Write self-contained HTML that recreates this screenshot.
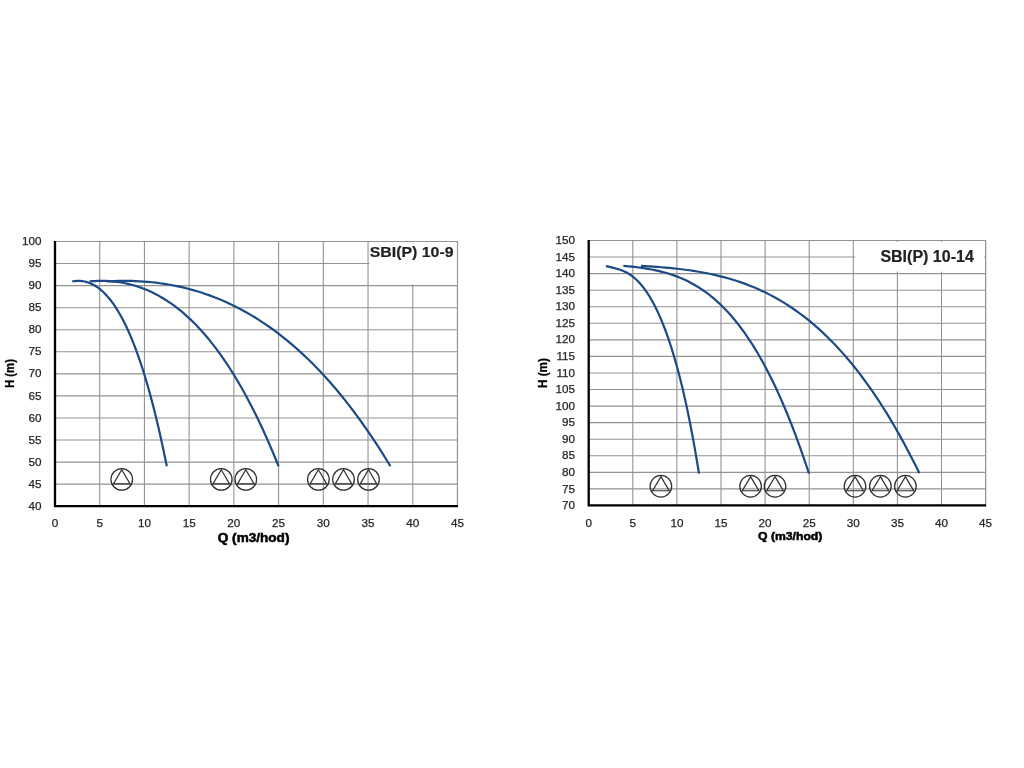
<!DOCTYPE html>
<html lang="cs"><head><meta charset="utf-8"><title>SBI(P) 10-9 / SBI(P) 10-14</title>
<style>
html,body{margin:0;padding:0;background:#fff;}
body{width:1024px;height:768px;overflow:hidden;}
svg{display:block}
.t{font-family:"Liberation Sans",sans-serif;font-size:11.7px;fill:#242424;stroke:#242424;stroke-width:.25px;}
.b{font-family:"Liberation Sans",sans-serif;font-weight:bold;fill:#000;stroke:#000;stroke-width:.5px;}
.h{stroke-width:.25px;}
.ttl{font-family:"Liberation Sans",sans-serif;font-weight:bold;fill:#222;stroke:#222;stroke-width:.2px;}
</style></head><body>
<svg width="1024" height="768" viewBox="0 0 1024 768">
<rect width="1024" height="768" fill="#fff"/>
<path d="M55.00,241.50H457.48M55.00,263.56H457.48M55.00,285.62H457.48M55.00,307.68H457.48M55.00,329.74H457.48M55.00,351.80H457.48M55.00,373.86H457.48M55.00,395.92H457.48M55.00,417.98H457.48M55.00,440.04H457.48M55.00,462.10H457.48M55.00,484.16H457.48M99.72,241.50V506.22M144.44,241.50V506.22M189.16,241.50V506.22M233.88,241.50V506.22M278.60,241.50V506.22M323.32,241.50V506.22M368.04,241.50V506.22M412.76,241.50V506.22M457.48,241.50V506.22" stroke="#939393" stroke-width="1.1" fill="none"/>
<rect x="369.4" y="242.1" width="87.50" height="42.50" fill="#fff"/>
<path d="M55.00,241.50H457.48V506.22" stroke="#939393" stroke-width="1.1" fill="none"/>
<path d="M72.26,281.45 L73.63,281.22 L75.00,281.05 L76.37,280.94 L77.74,280.88 L79.11,280.89 L80.48,280.96 L81.85,281.08 L83.22,281.28 L84.59,281.54 L85.96,281.86 L87.33,282.25 L88.70,282.71 L90.07,283.23 L91.44,283.83 L92.81,284.50 L94.18,285.24 L95.55,286.05 L96.92,286.94 L98.29,287.91 L99.66,288.95 L101.03,290.08 L102.40,291.28 L103.77,292.56 L105.14,293.93 L106.51,295.38 L107.88,296.92 L109.26,298.54 L110.63,300.26 L112.00,302.06 L113.37,303.95 L114.74,305.94 L116.11,308.02 L117.48,310.19 L118.85,312.46 L120.22,314.83 L121.59,317.31 L122.96,319.88 L124.33,322.56 L125.70,325.34 L127.07,328.23 L128.44,331.22 L129.81,334.33 L131.18,337.55 L132.55,340.88 L133.92,344.32 L135.29,347.89 L136.66,351.57 L138.03,355.37 L139.40,359.29 L140.77,363.34 L142.14,367.51 L143.51,371.81 L144.88,376.24 L146.25,380.81 L147.62,385.50 L148.99,390.33 L150.36,395.29 L151.73,400.40 L153.10,405.64 L154.47,411.03 L155.84,416.57 L157.21,422.24 L158.58,428.07 L159.95,434.05 L161.32,440.18 L162.69,446.47 L164.06,452.91 L165.43,459.52 L166.80,466.28" stroke="#1c4a86" stroke-width="2.2" fill="none" stroke-linecap="butt" stroke-linejoin="round"/>
<path d="M89.52,281.45 L92.26,281.22 L95.00,281.05 L97.74,280.94 L100.48,280.88 L103.23,280.89 L105.97,280.96 L108.71,281.08 L111.45,281.28 L114.19,281.54 L116.93,281.86 L119.67,282.25 L122.41,282.71 L125.15,283.23 L127.89,283.83 L130.63,284.50 L133.37,285.24 L136.11,286.05 L138.85,286.94 L141.59,287.91 L144.33,288.95 L147.07,290.08 L149.81,291.28 L152.55,292.56 L155.29,293.93 L158.03,295.38 L160.77,296.92 L163.51,298.54 L166.25,300.26 L168.99,302.06 L171.73,303.95 L174.47,305.94 L177.21,308.02 L179.95,310.19 L182.69,312.46 L185.43,314.83 L188.17,317.31 L190.91,319.88 L193.65,322.56 L196.39,325.34 L199.13,328.23 L201.87,331.22 L204.61,334.33 L207.35,337.55 L210.09,340.88 L212.83,344.32 L215.57,347.89 L218.31,351.57 L221.06,355.37 L223.80,359.29 L226.54,363.34 L229.28,367.51 L232.02,371.81 L234.76,376.24 L237.50,380.81 L240.24,385.50 L242.98,390.33 L245.72,395.29 L248.46,400.40 L251.20,405.64 L253.94,411.03 L256.68,416.57 L259.42,422.24 L262.16,428.07 L264.90,434.05 L267.64,440.18 L270.38,446.47 L273.12,452.91 L275.86,459.52 L278.60,466.28" stroke="#1c4a86" stroke-width="2.2" fill="none" stroke-linecap="butt" stroke-linejoin="round"/>
<path d="M106.79,281.45 L110.90,281.22 L115.01,281.05 L119.12,280.94 L123.23,280.88 L127.34,280.89 L131.45,280.96 L135.56,281.08 L139.67,281.28 L143.78,281.54 L147.89,281.86 L152.00,282.25 L156.11,282.71 L160.22,283.23 L164.33,283.83 L168.44,284.50 L172.55,285.24 L176.66,286.05 L180.77,286.94 L184.88,287.91 L188.99,288.95 L193.10,290.08 L197.21,291.28 L201.32,292.56 L205.43,293.93 L209.54,295.38 L213.65,296.92 L217.77,298.54 L221.88,300.26 L225.99,302.06 L230.10,303.95 L234.21,305.94 L238.32,308.02 L242.43,310.19 L246.54,312.46 L250.65,314.83 L254.76,317.31 L258.87,319.88 L262.98,322.56 L267.09,325.34 L271.20,328.23 L275.31,331.22 L279.42,334.33 L283.53,337.55 L287.64,340.88 L291.75,344.32 L295.86,347.89 L299.97,351.57 L304.08,355.37 L308.19,359.29 L312.30,363.34 L316.41,367.51 L320.52,371.81 L324.63,376.24 L328.74,380.81 L332.86,385.50 L336.97,390.33 L341.08,395.29 L345.19,400.40 L349.30,405.64 L353.41,411.03 L357.52,416.57 L361.63,422.24 L365.74,428.07 L369.85,434.05 L373.96,440.18 L378.07,446.47 L382.18,452.91 L386.29,459.52 L390.40,466.28" stroke="#1c4a86" stroke-width="2.2" fill="none" stroke-linecap="butt" stroke-linejoin="round"/>
<circle cx="121.75" cy="479.4" r="10.8" fill="none" stroke="#2e2e2e" stroke-width="1.25"/>
<path d="M121.75,469.80L130.06,483.91H113.44Z" fill="none" stroke="#2e2e2e" stroke-width="1.2" stroke-linejoin="miter"/>
<circle cx="221.25" cy="479.4" r="10.8" fill="none" stroke="#2e2e2e" stroke-width="1.25"/>
<path d="M221.25,469.80L229.56,483.91H212.94Z" fill="none" stroke="#2e2e2e" stroke-width="1.2" stroke-linejoin="miter"/>
<circle cx="245.8" cy="479.4" r="10.8" fill="none" stroke="#2e2e2e" stroke-width="1.25"/>
<path d="M245.8,469.80L254.11,483.91H237.49Z" fill="none" stroke="#2e2e2e" stroke-width="1.2" stroke-linejoin="miter"/>
<circle cx="318.4" cy="479.4" r="10.8" fill="none" stroke="#2e2e2e" stroke-width="1.25"/>
<path d="M318.4,469.80L326.71,483.91H310.09Z" fill="none" stroke="#2e2e2e" stroke-width="1.2" stroke-linejoin="miter"/>
<circle cx="343.5" cy="479.4" r="10.8" fill="none" stroke="#2e2e2e" stroke-width="1.25"/>
<path d="M343.5,469.80L351.81,483.91H335.19Z" fill="none" stroke="#2e2e2e" stroke-width="1.2" stroke-linejoin="miter"/>
<circle cx="368.5" cy="479.4" r="10.8" fill="none" stroke="#2e2e2e" stroke-width="1.25"/>
<path d="M368.5,469.80L376.81,483.91H360.19Z" fill="none" stroke="#2e2e2e" stroke-width="1.2" stroke-linejoin="miter"/>
<path d="M55.00,241.00V506.22H457.98" stroke="#000" stroke-width="2.3" fill="none" stroke-linejoin="miter" stroke-linecap="butt"/>
<text x="41.40" y="245.10" text-anchor="end" class="t">100</text>
<text x="41.40" y="267.16" text-anchor="end" class="t">95</text>
<text x="41.40" y="289.22" text-anchor="end" class="t">90</text>
<text x="41.40" y="311.28" text-anchor="end" class="t">85</text>
<text x="41.40" y="333.34" text-anchor="end" class="t">80</text>
<text x="41.40" y="355.40" text-anchor="end" class="t">75</text>
<text x="41.40" y="377.46" text-anchor="end" class="t">70</text>
<text x="41.40" y="399.52" text-anchor="end" class="t">65</text>
<text x="41.40" y="421.58" text-anchor="end" class="t">60</text>
<text x="41.40" y="443.64" text-anchor="end" class="t">55</text>
<text x="41.40" y="465.70" text-anchor="end" class="t">50</text>
<text x="41.40" y="487.76" text-anchor="end" class="t">45</text>
<text x="41.40" y="509.82" text-anchor="end" class="t">40</text>
<text x="55.00" y="527.2" text-anchor="middle" class="t">0</text>
<text x="99.72" y="527.2" text-anchor="middle" class="t">5</text>
<text x="144.44" y="527.2" text-anchor="middle" class="t">10</text>
<text x="189.16" y="527.2" text-anchor="middle" class="t">15</text>
<text x="233.88" y="527.2" text-anchor="middle" class="t">20</text>
<text x="278.60" y="527.2" text-anchor="middle" class="t">25</text>
<text x="323.32" y="527.2" text-anchor="middle" class="t">30</text>
<text x="368.04" y="527.2" text-anchor="middle" class="t">35</text>
<text x="412.76" y="527.2" text-anchor="middle" class="t">40</text>
<text x="457.48" y="527.2" text-anchor="middle" class="t">45</text>
<text x="217.8" y="541.8" class="b" font-size="12.0" textLength="71.6" lengthAdjust="spacingAndGlyphs">Q (m3/hod)</text>
<text transform="translate(14,388.0) rotate(-90)" class="b h" font-size="12.4" textLength="29.0" lengthAdjust="spacingAndGlyphs">H (m)</text>
<text x="369.7" y="257.3" class="ttl" font-size="15" textLength="83.9" lengthAdjust="spacingAndGlyphs">SBI(P) 10-9</text>
<path d="M588.70,240.50H985.60M588.70,257.06H985.60M588.70,273.62H985.60M588.70,290.18H985.60M588.70,306.74H985.60M588.70,323.30H985.60M588.70,339.86H985.60M588.70,356.42H985.60M588.70,372.98H985.60M588.70,389.54H985.60M588.70,406.10H985.60M588.70,422.66H985.60M588.70,439.22H985.60M588.70,455.78H985.60M588.70,472.34H985.60M588.70,488.90H985.60M632.80,240.50V505.46M676.90,240.50V505.46M721.00,240.50V505.46M765.10,240.50V505.46M809.20,240.50V505.46M853.30,240.50V505.46M897.40,240.50V505.46M941.50,240.50V505.46M985.60,240.50V505.46" stroke="#939393" stroke-width="1.1" fill="none"/>
<rect x="855.2" y="242.0" width="129.00" height="29.60" fill="#fff"/>
<path d="M588.70,240.50H985.60V505.46" stroke="#939393" stroke-width="1.1" fill="none"/>
<path d="M605.90,265.98 L607.25,266.35 L608.60,266.69 L609.95,267.03 L611.30,267.35 L612.65,267.67 L614.00,268.01 L615.34,268.35 L616.69,268.72 L618.04,269.11 L619.39,269.54 L620.74,270.00 L622.09,270.51 L623.44,271.06 L624.79,271.67 L626.14,272.34 L627.49,273.07 L628.84,273.86 L630.19,274.73 L631.54,275.67 L632.89,276.68 L634.23,277.78 L635.58,278.96 L636.93,280.22 L638.28,281.57 L639.63,283.02 L640.98,284.55 L642.33,286.18 L643.68,287.90 L645.03,289.72 L646.38,291.64 L647.73,293.66 L649.08,295.78 L650.43,298.00 L651.78,300.33 L653.12,302.77 L654.47,305.32 L655.82,307.98 L657.17,310.76 L658.52,313.66 L659.87,316.67 L661.22,319.81 L662.57,323.08 L663.92,326.48 L665.27,330.01 L666.62,333.68 L667.97,337.48 L669.32,341.43 L670.67,345.52 L672.01,349.77 L673.36,354.16 L674.71,358.72 L676.06,363.44 L677.41,368.32 L678.76,373.37 L680.11,378.60 L681.46,384.02 L682.81,389.61 L684.16,395.41 L685.51,401.40 L686.86,407.59 L688.21,413.99 L689.56,420.62 L690.90,427.46 L692.25,434.54 L693.60,441.85 L694.95,449.41 L696.30,457.22 L697.65,465.29 L699.00,473.63" stroke="#1c4a86" stroke-width="2.2" fill="none" stroke-linecap="butt" stroke-linejoin="round"/>
<path d="M623.40,265.80 L626.09,266.06 L628.78,266.34 L631.47,266.62 L634.16,266.93 L636.85,267.25 L639.54,267.60 L642.23,267.97 L644.92,268.37 L647.61,268.80 L650.30,269.27 L652.99,269.78 L655.68,270.33 L658.37,270.92 L661.06,271.56 L663.75,272.26 L666.44,273.00 L669.13,273.81 L671.82,274.68 L674.51,275.61 L677.20,276.60 L679.89,277.67 L682.58,278.82 L685.27,280.03 L687.96,281.33 L690.65,282.72 L693.34,284.18 L696.03,285.74 L698.72,287.39 L701.41,289.14 L704.10,290.98 L706.79,292.93 L709.48,294.99 L712.17,297.15 L714.86,299.42 L717.54,301.81 L720.23,304.31 L722.92,306.94 L725.61,309.69 L728.30,312.57 L730.99,315.58 L733.68,318.72 L736.37,322.00 L739.06,325.42 L741.75,328.98 L744.44,332.69 L747.13,336.55 L749.82,340.56 L752.51,344.72 L755.20,349.05 L757.89,353.54 L760.58,358.19 L763.27,363.01 L765.96,368.00 L768.65,373.16 L771.34,378.51 L774.03,384.03 L776.72,389.74 L779.41,395.63 L782.10,401.71 L784.79,407.99 L787.48,414.46 L790.17,421.13 L792.86,428.01 L795.55,435.09 L798.24,442.38 L800.93,449.88 L803.62,457.59 L806.31,465.52 L809.00,473.68" stroke="#1c4a86" stroke-width="2.2" fill="none" stroke-linecap="butt" stroke-linejoin="round"/>
<path d="M640.90,265.84 L644.94,266.09 L648.97,266.35 L653.01,266.62 L657.04,266.92 L661.08,267.23 L665.12,267.57 L669.15,267.94 L673.19,268.33 L677.23,268.76 L681.26,269.23 L685.30,269.73 L689.33,270.28 L693.37,270.87 L697.41,271.52 L701.44,272.21 L705.48,272.96 L709.52,273.76 L713.55,274.63 L717.59,275.56 L721.62,276.56 L725.66,277.62 L729.70,278.76 L733.73,279.98 L737.77,281.27 L741.81,282.65 L745.84,284.11 L749.88,285.67 L753.91,287.31 L757.95,289.05 L761.99,290.89 L766.02,292.82 L770.06,294.87 L774.10,297.02 L778.13,299.28 L782.17,301.65 L786.20,304.14 L790.24,306.75 L794.28,309.49 L798.31,312.35 L802.35,315.34 L806.39,318.47 L810.42,321.73 L814.46,325.13 L818.49,328.68 L822.53,332.37 L826.57,336.20 L830.60,340.20 L834.64,344.34 L838.68,348.65 L842.71,353.12 L846.75,357.75 L850.78,362.56 L854.82,367.53 L858.86,372.69 L862.89,378.02 L866.93,383.53 L870.97,389.23 L875.00,395.11 L879.04,401.19 L883.07,407.47 L887.11,413.94 L891.15,420.62 L895.18,427.50 L899.22,434.59 L903.26,441.89 L907.29,449.41 L911.33,457.15 L915.36,465.11 L919.40,473.29" stroke="#1c4a86" stroke-width="2.2" fill="none" stroke-linecap="butt" stroke-linejoin="round"/>
<circle cx="660.9" cy="486.25" r="10.8" fill="none" stroke="#2e2e2e" stroke-width="1.25"/>
<path d="M660.9,476.65L669.21,490.76H652.59Z" fill="none" stroke="#2e2e2e" stroke-width="1.2" stroke-linejoin="miter"/>
<circle cx="750.6" cy="486.25" r="10.8" fill="none" stroke="#2e2e2e" stroke-width="1.25"/>
<path d="M750.6,476.65L758.91,490.76H742.29Z" fill="none" stroke="#2e2e2e" stroke-width="1.2" stroke-linejoin="miter"/>
<circle cx="775.0" cy="486.25" r="10.8" fill="none" stroke="#2e2e2e" stroke-width="1.25"/>
<path d="M775.0,476.65L783.31,490.76H766.69Z" fill="none" stroke="#2e2e2e" stroke-width="1.2" stroke-linejoin="miter"/>
<circle cx="855.0" cy="486.25" r="10.8" fill="none" stroke="#2e2e2e" stroke-width="1.25"/>
<path d="M855.0,476.65L863.31,490.76H846.69Z" fill="none" stroke="#2e2e2e" stroke-width="1.2" stroke-linejoin="miter"/>
<circle cx="880.4" cy="486.25" r="10.8" fill="none" stroke="#2e2e2e" stroke-width="1.25"/>
<path d="M880.4,476.65L888.71,490.76H872.09Z" fill="none" stroke="#2e2e2e" stroke-width="1.2" stroke-linejoin="miter"/>
<circle cx="905.4" cy="486.25" r="10.8" fill="none" stroke="#2e2e2e" stroke-width="1.25"/>
<path d="M905.4,476.65L913.71,490.76H897.09Z" fill="none" stroke="#2e2e2e" stroke-width="1.2" stroke-linejoin="miter"/>
<path d="M588.70,240.00V505.46H986.10" stroke="#000" stroke-width="2.3" fill="none" stroke-linejoin="miter" stroke-linecap="butt"/>
<text x="575.10" y="244.10" text-anchor="end" class="t">150</text>
<text x="575.10" y="260.66" text-anchor="end" class="t">145</text>
<text x="575.10" y="277.22" text-anchor="end" class="t">140</text>
<text x="575.10" y="293.78" text-anchor="end" class="t">135</text>
<text x="575.10" y="310.34" text-anchor="end" class="t">130</text>
<text x="575.10" y="326.90" text-anchor="end" class="t">125</text>
<text x="575.10" y="343.46" text-anchor="end" class="t">120</text>
<text x="575.10" y="360.02" text-anchor="end" class="t">115</text>
<text x="575.10" y="376.58" text-anchor="end" class="t">110</text>
<text x="575.10" y="393.14" text-anchor="end" class="t">105</text>
<text x="575.10" y="409.70" text-anchor="end" class="t">100</text>
<text x="575.10" y="426.26" text-anchor="end" class="t">95</text>
<text x="575.10" y="442.82" text-anchor="end" class="t">90</text>
<text x="575.10" y="459.38" text-anchor="end" class="t">85</text>
<text x="575.10" y="475.94" text-anchor="end" class="t">80</text>
<text x="575.10" y="492.50" text-anchor="end" class="t">75</text>
<text x="575.10" y="509.06" text-anchor="end" class="t">70</text>
<text x="588.70" y="527.3" text-anchor="middle" class="t">0</text>
<text x="632.80" y="527.3" text-anchor="middle" class="t">5</text>
<text x="676.90" y="527.3" text-anchor="middle" class="t">10</text>
<text x="721.00" y="527.3" text-anchor="middle" class="t">15</text>
<text x="765.10" y="527.3" text-anchor="middle" class="t">20</text>
<text x="809.20" y="527.3" text-anchor="middle" class="t">25</text>
<text x="853.30" y="527.3" text-anchor="middle" class="t">30</text>
<text x="897.40" y="527.3" text-anchor="middle" class="t">35</text>
<text x="941.50" y="527.3" text-anchor="middle" class="t">40</text>
<text x="985.60" y="527.3" text-anchor="middle" class="t">45</text>
<text x="758.0" y="539.8" class="b" font-size="10.9" textLength="64.4" lengthAdjust="spacingAndGlyphs">Q (m3/hod)</text>
<text transform="translate(546.9,388.0) rotate(-90)" class="b h" font-size="12.4" textLength="29.8" lengthAdjust="spacingAndGlyphs">H (m)</text>
<text x="880.4" y="261.7" class="ttl" font-size="15.6" textLength="93.4" lengthAdjust="spacingAndGlyphs">SBI(P) 10-14</text>
</svg>
</body></html>
